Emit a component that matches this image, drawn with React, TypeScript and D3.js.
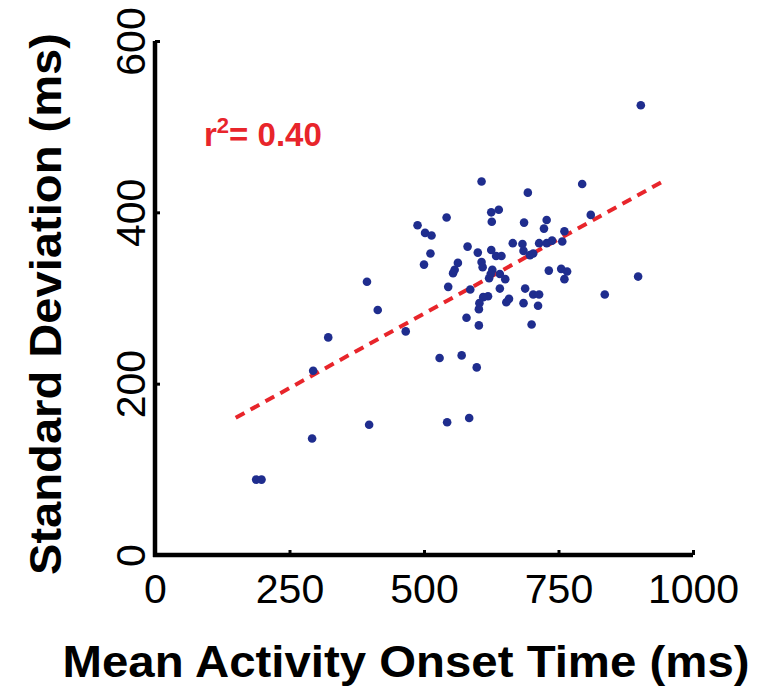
import { useRef, useEffect } from 'react';
import * as d3 from 'd3';

// mean activity onset time (ms), one entry per unit
const onsetTimes = [
  188, 198, 292, 294, 322, 394, 398, 414, 466, 488,
  502, 514, 512, 500, 529, 543, 542, 545, 554, 557,
  903, 607, 693, 794, 625, 639, 626, 686, 728, 723,
  761, 810, 581, 600, 563, 586, 607, 609, 625, 634,
  644, 665, 683, 685, 697, 703, 714, 728, 738, 757,
  627, 624, 621, 641, 651, 641, 619, 610, 603, 602,
  579, 602, 653, 658, 685, 688, 703, 714, 712, 700,
  732, 755, 766, 761, 836, 898, 570, 598, 584,
];
// standard deviation of onset (ms), same order
const stdDevs = [
  88, 88, 136, 215, 254, 319, 152, 286, 261, 385,
  376, 373, 352, 339, 230, 155, 394, 313, 329, 333,
  525, 436, 423, 433, 400, 403, 389, 388, 391, 381,
  378, 397, 360, 353, 341, 310, 342, 336, 356, 349,
  349, 364, 363, 355, 350, 352, 364, 364, 367, 366,
  333, 328, 323, 328, 322, 311, 302, 301, 294, 287,
  277, 268, 295, 299, 294, 311, 304, 304, 291, 269,
  332, 334, 331, 322, 304, 325, 233, 219, 160,
];

const xTicks = [0, 250, 500, 750, 1000];
const yTicks = [0, 200, 400, 600];

// least squares fit drawn as dashed line
const fitRange = [150, 950];
const fitSlope = 0.3475;
const fitIntercept = 108;
const rSquared = '0.40';

const Scatter = () => {
  const svgRef = useRef(null);

  useEffect(() => {
    const w = 759;
    const h = 691;
    const svg = d3.select(svgRef.current)
      .attr('width', w)
      .attr('height', h)
      .style('font-family', 'Liberation Sans, Arial, sans-serif');
    svg.selectAll('*').remove();

    //scales
    const x = d3.scaleLinear().domain([0, 1000]).range([155, 693]);
    const y = d3.scaleLinear().domain([0, 600]).range([555, 41]);

    //fit line
    const line = d3.line().x(d => x(d[0])).y(d => y(d[1]));
    svg.append('path')
      .datum(fitRange.map(v => [v, fitIntercept + fitSlope * v]))
      .attr('d', line)
      .attr('fill', 'none')
      .attr('stroke', '#e8252b')
      .attr('stroke-width', 4)
      .attr('stroke-dasharray', '10,7');

    //points
    svg.append('g')
      .selectAll('circle')
      .data(onsetTimes.map((t, i) => [t, stdDevs[i]]))
      .enter()
      .append('circle')
        .attr('cx', d => x(d[0]))
        .attr('cy', d => y(d[1]))
        .attr('r', 4.3)
        .attr('fill', '#1f2d8e');

    //axes
    const xAxis = d3.axisBottom(x).tickValues(xTicks).tickFormat(d3.format('d'))
      .tickSizeInner(-5).tickSizeOuter(0);
    const gx = svg.append('g').attr('transform', `translate(0, ${y(0)})`).call(xAxis);
    gx.select('.domain').attr('stroke-width', 4.5).attr('d', `M${x(0) - 2},0H${x(1000)}`);
    gx.selectAll('line').attr('stroke-width', 3);
    gx.selectAll('text')
      .attr('y', 48)
      .attr('dy', 0)
      .attr('font-size', 41)
      .attr('fill', '#000');

    const yAxis = d3.axisLeft(y).tickValues(yTicks).tickFormat(d3.format('d'))
      .tickSizeInner(-5).tickSizeOuter(0);
    const gy = svg.append('g').attr('transform', `translate(${x(0)}, 0)`).call(yAxis);
    gy.select('.domain').attr('stroke-width', 4.5).attr('d', `M0,${y(600)}V${y(0) + 2}`);
    gy.selectAll('line').attr('stroke-width', 3);
    gy.selectAll('text')
      .attr('x', 0)
      .attr('dy', 0)
      .attr('text-anchor', 'middle')
      .attr('transform', 'translate(-10,0) rotate(-90)')
      .attr('font-size', 41)
      .attr('fill', '#000');

    //axis titles
    svg.append('text')
      .attr('x', 406)
      .attr('y', 677)
      .attr('text-anchor', 'middle')
      .attr('font-size', 44)
      .attr('font-weight', 'bold')
      .attr('textLength', 687)
      .attr('lengthAdjust', 'spacingAndGlyphs')
      .text('Mean Activity Onset Time (ms)');
    svg.append('text')
      .attr('transform', 'translate(61, 304) rotate(-90)')
      .attr('text-anchor', 'middle')
      .attr('font-size', 44)
      .attr('font-weight', 'bold')
      .attr('textLength', 542)
      .attr('lengthAdjust', 'spacingAndGlyphs')
      .text('Standard Deviation (ms)');

    //r squared label
    const lab = svg.append('text')
      .attr('x', 204)
      .attr('y', 146)
      .attr('font-size', 33)
      .attr('font-weight', 'bold')
      .attr('fill', '#e8252b');
    lab.append('tspan').text('r');
    lab.append('tspan').attr('font-size', 22).attr('dy', -13).text('2');
    lab.append('tspan').attr('dy', 13).text('= ' + rSquared);
  }, []);

  return <svg ref={svgRef} style={{ position: 'absolute', left: 0, top: 0 }}></svg>;
};

export default function App() {
  return <Scatter />;
}
